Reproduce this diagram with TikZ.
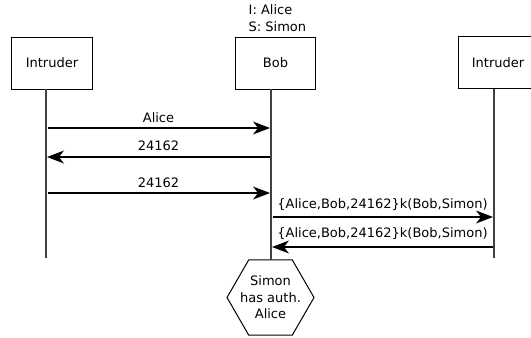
\documentclass[tikz,border=0pt]{standalone}
\usepackage{fontspec}
\setmainfont{DejaVu Sans}
\usetikzlibrary{arrows.meta,shapes.geometric}
\begin{document}
\begin{tikzpicture}[x=1bp,y=-1bp,
  font=\fontsize{13bp}{16.5bp}\selectfont,
  actor/.style={draw=black,line width=1bp,minimum width=80bp,minimum height=52bp,inner sep=0pt},
  lifeline/.style={draw=black!75,line width=1.3bp},
  tip/.tip={Stealth[length=17bp,width=13bp,inset=5bp,line width=0pt]},
  msg/.style={line width=1.4bp,-tip,shorten >=1bp,shorten <=1.5bp},
  lbl/.style={inner sep=0pt},
  goal/.style={draw=black,line width=1bp,regular polygon,regular polygon sides=6,minimum size=87bp,inner sep=-8bp,outer sep=0pt,align=center}]
\useasboundingbox (0,0) rectangle (531,337);
\clip (0,0) rectangle (531,337);

% principals
\node[actor] (intL) at (52,63) {Intruder};
\node[actor] (bob) at (275.5,63) {Bob};
\node[actor] (intR) at (498,62.5) {Intruder};
\node[lbl,anchor=north west,align=left] (roles) at (248.5,4.5) {I: Alice\\S: Simon};

% lifelines
\coordinate (lA) at (46,89);   \coordinate (lAend) at (46,258);
\coordinate (lB) at (271,89);
\coordinate (lC) at (494,89);  \coordinate (lCend) at (494,258);
\node[goal] (auth) at (270.5,297.5) {Simon\\has auth.\\Alice};
\draw[lifeline] (lA) -- (lAend);
\draw[lifeline] (lB) -- (lB |- auth.north);
\draw[lifeline] (lC) -- (lCend);

% message anchor points on the lifelines
\coordinate (a1) at (46,128);  \coordinate (b1) at (271,128);
\coordinate (a2) at (46,157);  \coordinate (b2) at (271,157);
\coordinate (a3) at (46,193);  \coordinate (b3) at (271,193);
\coordinate (b4) at (271,217); \coordinate (c4) at (494,217);
\coordinate (b5) at (271,247); \coordinate (c5) at (494,247);

% messages
\draw[msg] (a1) -- node[lbl,above=5bp] {Alice} (b1);
\draw[msg] (b2) -- node[lbl,above=6bp] {24162} (a2);
\draw[msg] (a3) -- node[lbl,above=5bp] {24162} (b3);
\draw[msg] (b4) -- node[lbl,above=6bp] {\{Alice,Bob,24162\}k(Bob,Simon)} (c4);
\draw[msg] (c5) -- node[lbl,above=7bp] {\{Alice,Bob,24162\}k(Bob,Simon)} (b5);
\end{tikzpicture}
\end{document}
